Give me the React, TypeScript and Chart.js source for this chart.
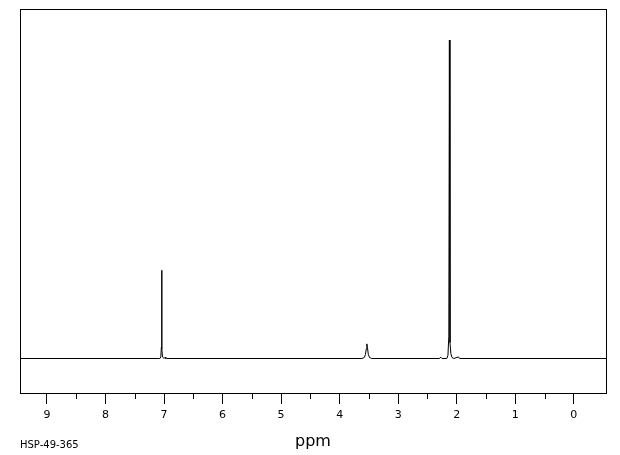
import React, { useEffect, useRef } from "react";
import { Chart, registerables } from "chart.js";

Chart.register(...registerables);

// Chemical shift (ppm) and relative intensity points
const shiftPpm = [
  9.46, 7.1, 7.07, 7.055, 7.045, 7.04, 7.035, 7.025, 7.0, 6.98, 6.97, 6.96,
  3.62, 3.58, 3.56, 3.545, 3.535, 3.525, 3.51, 3.49, 3.45,
  2.3, 2.27, 2.25, 2.17, 2.15, 2.135, 2.125, 2.115, 2.1, 2.08, 2.05, 1.97, 1.95, -0.55,
];
const intensity = [
  0, 0, 0, 0.5, 3.5, 27.7, 3.0, 0.5, 0, 0.4, 0, 0,
  0, 0.3, 1.2, 3.0, 4.6, 3.5, 1.3, 0.3, 0,
  0, 0.4, 0, 0, 1.0, 7.0, 100, 5.0, 1.5, 0.3, 0, 0.5, 0, 0,
];
const majorTicks = [0, 1, 2, 3, 4, 5, 6, 7, 8, 9];
const minorTicks = [0.5, 1.5, 2.5, 3.5, 4.5, 5.5, 6.5, 7.5, 8.5];
const xMin = -0.55;
const xMax = 9.46;
const yMin = -10.83;
const yMax = 109.75;
const axisTitle = "ppm";
const sampleId = "HSP-49-365";

const boxAndTicks = {
  id: "boxAndTicks",
  afterDraw(chart: any) {
    const { ctx, chartArea } = chart;
    const x = chart.scales.x;
    ctx.save();
    ctx.strokeStyle = "#000";
    ctx.lineWidth = 1;
    ctx.strokeRect(
      chartArea.left + 0.5,
      chartArea.top + 0.5,
      chartArea.right - chartArea.left,
      chartArea.bottom - chartArea.top
    );
    ctx.beginPath();
    for (const v of minorTicks) {
      const px = Math.round(x.getPixelForValue(v)) + 0.5;
      ctx.moveTo(px, chartArea.bottom);
      ctx.lineTo(px, chartArea.bottom + 6);
    }
    ctx.stroke();
    ctx.fillStyle = "#000";
    ctx.font = "10px 'DejaVu Sans'";
    ctx.textBaseline = "alphabetic";
    ctx.textAlign = "left";
    ctx.fillText(sampleId, 20, 448);
    ctx.restore();
  },
};

export default function App() {
  const ref = useRef<HTMLCanvasElement>(null);
  useEffect(() => {
    if (!ref.current) return;
    const chart = new Chart(ref.current, {
      type: "line",
      data: {
        datasets: [
          {
            data: shiftPpm.map((p, i) => ({ x: p, y: intensity[i] })),
            borderColor: "#000",
            borderWidth: 1,
            pointRadius: 0,
            tension: 0,
            fill: false,
          },
        ],
      },
      options: {
        animation: false,
        responsive: false,
        maintainAspectRatio: false,
        layout: { padding: { left: 20, right: 14, top: 9, bottom: 0 } },
        plugins: { legend: { display: false }, tooltip: { enabled: false } },
        scales: {
          x: {
            type: "linear",
            reverse: true,
            min: xMin,
            max: xMax,
            afterBuildTicks: (scale: any) => {
              scale.ticks = majorTicks.map((v) => ({ value: v }));
            },
            afterFit: (scale: any) => {
              scale.height = 62;
            },
            grid: {
              drawOnChartArea: false,
              drawTicks: true,
              tickLength: 11,
              color: "#000",
            },
            border: { display: false },
            ticks: {
              color: "#000",
              font: { family: "'DejaVu Sans'", size: 11 },
              padding: 5,
              maxRotation: 0,
              autoSkip: false,
              callback: (v: any) => String(v),
            },
            title: {
              display: true,
              text: axisTitle,
              color: "#000",
              font: { family: "'DejaVu Sans'", size: 16 },
              padding: { top: 0, bottom: 4 },
            },
          },
          y: {
            display: false,
            min: yMin,
            max: yMax,
          },
        },
      },
      plugins: [boxAndTicks],
    });
    return () => chart.destroy();
  }, []);
  return (
    <div style={{ position: "fixed", left: 0, top: 0, width: 620, height: 455, background: "#fff" }}>
      <canvas ref={ref} width={620} height={455} style={{ width: 620, height: 455 }} />
    </div>
  );
}
